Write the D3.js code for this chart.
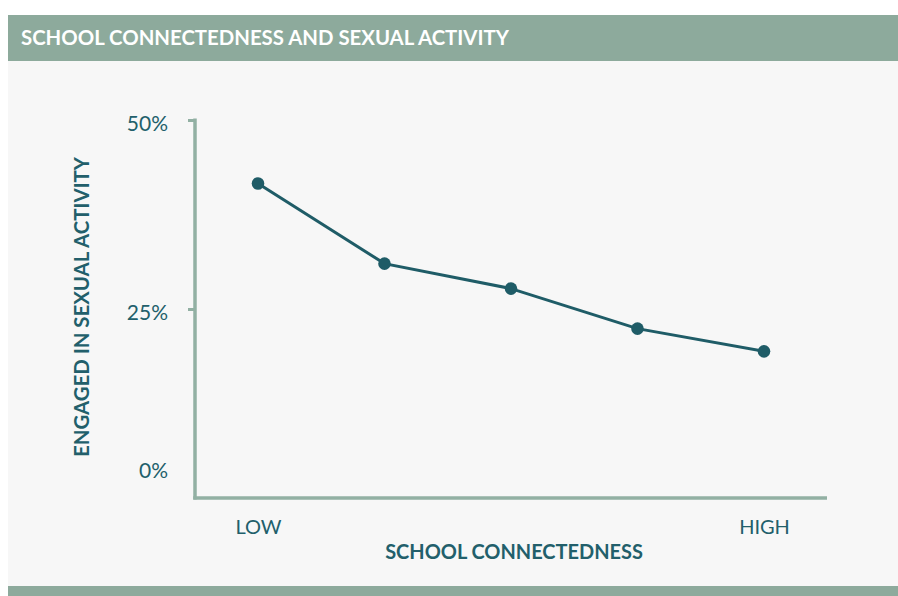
<!DOCTYPE html>
<html><head><meta charset="utf-8">
<script src="https://cdn.jsdelivr.net/npm/d3@7"></script>
<style>
html,body{margin:0;padding:0;background:#ffffff;}
svg{display:block;}
text{font-family:Lato,"Open Sans",sans-serif;}
</style></head>
<body>
<svg id="chart" width="898" height="596"></svg>
<script>
const title = "SCHOOL CONNECTEDNESS AND SEXUAL ACTIVITY";
const xTitle = "SCHOOL CONNECTEDNESS";
const yTitle = "ENGAGED IN SEXUAL ACTIVITY";
const categories = ["c1","c2","c3","c4","c5"];
const categoryLabels = ["LOW","","","","HIGH"];
const values = [41.6, 31.0, 27.7, 22.4, 19.4];
const yTicks = [0, 25, 50];
const yTickLabels = ["0%","25%","50%"];

const W = 898, H = 596;
const svg = d3.select("#chart");
const headerColor = "#8daa9c", axisColor = "#92b0a3", textColor = "#225f6b", lineColor = "#1f5c67";

svg.append("rect").attr("x",8).attr("y",61).attr("width",W-8).attr("height",525).attr("fill","#f7f7f7");
svg.append("rect").attr("x",8).attr("y",15).attr("width",W-8).attr("height",46).attr("fill",headerColor);
svg.append("rect").attr("x",8).attr("y",586).attr("width",W-8).attr("height",10).attr("fill",headerColor);

function fit(sel, target){
  const n = sel.node();
  const fs = parseFloat(sel.attr("font-size"));
  const w = n.getComputedTextLength();
  sel.attr("font-size", (fs*target/w).toFixed(2));
}

const t = svg.append("text").attr("x",21).attr("y",45).attr("fill","#ffffff")
  .attr("font-weight","bold").attr("font-size",20).text(title);
fit(t, 488);

const x = d3.scalePoint().domain(categories).range([258, 764]);
const y = d3.scaleLinear().domain([0, 50]).range([498, 120]);

const axX = 195, axY = 498, axXEnd = 827;

const yAxis = d3.axisLeft(y).tickValues(yTicks.filter(v=>v>0)).tickSize(7).tickFormat("");
const gy = svg.append("g").attr("transform",`translate(${axX},0)`).call(yAxis);
gy.select(".domain").remove();
gy.selectAll(".tick line").attr("stroke",axisColor).attr("stroke-width",3).attr("x2",-7);
svg.append("line").attr("x1",axX).attr("x2",axX).attr("y1",y(50)-1.5).attr("y2",axY+1.5)
  .attr("stroke",axisColor).attr("stroke-width",3.5);
const xAxis = d3.axisBottom(x).tickSize(0).tickFormat((d,i)=>categoryLabels[i]);
const gx = svg.append("g").attr("transform",`translate(0,${axY})`).call(xAxis);
gx.select(".domain").remove();
gx.selectAll(".tick text").attr("y",0).attr("dy","36px").attr("fill",textColor)
  .attr("font-size",20).attr("font-family","Lato,'Open Sans',sans-serif");
svg.append("line").attr("x1",axX-1.75).attr("x2",axXEnd).attr("y1",axY).attr("y2",axY)
  .attr("stroke",axisColor).attr("stroke-width",3.5);

svg.append("g").selectAll("text").data(yTicks).join("text")
  .attr("x",168).attr("text-anchor","end")
  .attr("y",d => d===0 ? 478 : y(d)+11)
  .attr("fill",textColor).attr("font-size",21)
  .text((d,i)=>yTickLabels[i]);

const line = d3.line().x((d,i)=>x(categories[i])).y(d=>y(d));
svg.append("path").datum(values).attr("d",line).attr("fill","none")
  .attr("stroke",lineColor).attr("stroke-width",3);
svg.append("g").selectAll("circle").data(values).join("circle")
  .attr("cx",(d,i)=>x(categories[i])).attr("cy",d=>y(d)).attr("r",6.3).attr("fill",lineColor);

const xt = svg.append("text").attr("x",514).attr("y",559).attr("text-anchor","middle")
  .attr("fill",textColor).attr("font-weight","bold").attr("font-size",19).text(xTitle);
fit(xt, 258);
const yt = svg.append("text").attr("transform","translate(89,307) rotate(-90)").attr("text-anchor","middle")
  .attr("fill",textColor).attr("font-weight","bold").attr("font-size",19).text(yTitle);
fit(yt, 300);
</script>
</body></html>
